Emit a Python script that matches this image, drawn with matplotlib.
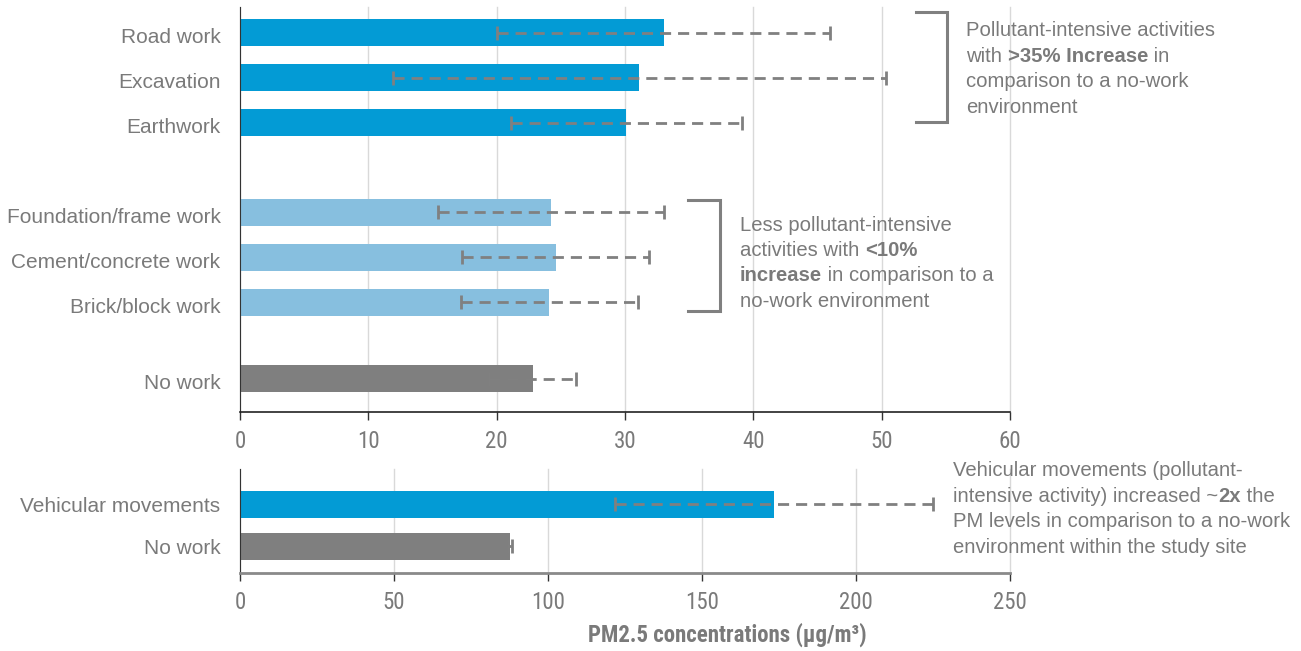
import matplotlib
matplotlib.use("Agg")
import matplotlib.pyplot as plt
from matplotlib import font_manager as fm
from matplotlib.transforms import ScaledTranslation

# ---------------- data ----------------
top_categories = ["Road work", "Excavation", "Earthwork",
                  "Foundation/frame work", "Cement/concrete work", "Brick/block work",
                  "No work"]
top_values = [33.0, 31.1, 30.1, 24.2, 24.6, 24.1, 22.8]
top_errors = [13.0, 19.2, 9.0, 8.8, 7.3, 6.9, 3.4]
top_groups = ["high", "high", "high", "low", "low", "low", "none"]
top_ticks = [0, 10, 20, 30, 40, 50, 60]

bottom_categories = ["Vehicular movements", "No work"]
bottom_values = [173.4, 87.7]
bottom_errors = [51.6, 0.7]
bottom_groups = ["high", "none"]
bottom_ticks = [0, 50, 100, 150, 200, 250]

xlabel_text = "PM2.5 concentrations (µg/m³)"

note_high = [[("Pollutant-intensive activities", False)],
             [("with ", False), (">35% Increase", True), (" in", False)],
             [("comparison to a no-work", False)],
             [("environment", False)]]
note_low = [[("Less pollutant-intensive", False)],
            [("activities with ", False), ("<10%", True)],
            [("increase", True), (" in comparison to a", False)],
            [("no-work environment", False)]]
note_vehicle = [[("Vehicular movements (pollutant-", False)],
                [("intensive activity) increased ~", False), ("2x", True), (" the", False)],
                [("PM levels in comparison to a no-work", False)],
                [("environment within the study site", False)]]

# ---------------- style ----------------
colors = {"high": "#039BD5", "low": "#87BFDF", "none": "#7F7F7F"}
txt_color = "#7a7a7a"
err_color = "#808080"
grid_color = "#d9d9d9"

names = {f.name for f in fm.fontManager.ttflist}
narrow = "Liberation Sans Narrow" if "Liberation Sans Narrow" in names else "Roboto Condensed" if "Roboto Condensed" in names else "Liberation Sans"
body = "Liberation Sans"
plt.rcParams["font.family"] = [body, "DejaVu Sans"]

W, H = 1301, 651
fig = plt.figure(figsize=(W / 100, H / 100), dpi=100)


def px_axes(x0, y0, x1, y1):
    return fig.add_axes([x0 / W, 1 - y1 / H, (x1 - x0) / W, (y1 - y0) / H])


ax1 = px_axes(240, 7, 1010, 412)
ax2 = px_axes(240, 469, 1010, 573)


def draw_bars(ax, cats, vals, errs, groups, pos, height):
    ax.barh(pos, vals, height=height, color=[colors[g] for g in groups], zorder=2)
    eb = ax.errorbar(vals, pos, xerr=errs, fmt="none", ecolor=err_color,
                     elinewidth=2, capsize=5, capthick=2, zorder=3)
    for lc in eb[2]:
        lc.set_linestyle((0, (4, 2.5)))
    ax.set_yticks(pos)
    ax.set_yticklabels(cats)
    for s in ["top", "right"]:
        ax.spines[s].set_visible(False)
    ax.tick_params(axis="y", length=0, pad=14, labelsize=15, labelcolor=txt_color)
    ax.tick_params(axis="x", length=6, width=1, direction="out", pad=7,
                   labelsize=16.5, labelcolor=txt_color, color="#333333")
    ax.grid(axis="x", color=grid_color, linewidth=1, zorder=0)
    for gl in ax.get_xgridlines():
        gl.set_clip_on(False)
    ax.set_axisbelow(True)


# top chart: 3 groups with gaps
top_pos = []
p = 0.0
for i, g in enumerate(top_groups):
    if i > 0 and g != top_groups[i - 1]:
        p += 1.0 if g == "low" else 0.7
    top_pos.append(p)
    p += 1.0
draw_bars(ax1, top_categories, top_values, top_errors, top_groups, top_pos, 0.6)
ax1.set_xlim(top_ticks[0], top_ticks[-1])
ax1.set_xticks(top_ticks)
ax1.set_ylim(top_pos[-1] + 0.74, -0.57)
ax1.spines["left"].set_color("#333333")
ax1.spines["bottom"].set_color("#222222")
ax1.spines["bottom"].set_linewidth(1.2)
shift = ScaledTranslation(0, -3 / 100, fig.dpi_scale_trans)
for lab in ax1.get_yticklabels():
    lab.set_transform(lab.get_transform() + shift)

bottom_pos = list(range(len(bottom_categories)))
draw_bars(ax2, bottom_categories, bottom_values, bottom_errors, bottom_groups, bottom_pos, 0.65)
ax2.set_xlim(bottom_ticks[0], bottom_ticks[-1])
ax2.set_xticks(bottom_ticks)
ax2.set_ylim(bottom_pos[-1] + 0.65, -0.855)
ax2.spines["left"].set_color("#333333")
ax2.spines["bottom"].set_color("#8a8a8a")
ax2.spines["bottom"].set_linewidth(2)
for ax in (ax1, ax2):
    for lab in ax.get_xticklabels():
        lab.set_fontfamily(narrow)
    for gl in ax.get_xgridlines():
        gl.set_clip_on(False)

fig.text(727 / W, 1 - 635 / H, xlabel_text, ha="center", va="center",
         fontsize=16.5, fontweight="bold", color=txt_color, family=[narrow, "DejaVu Sans"])


# brackets
def bracket(x0, x1, y0, y1):
    xs = [x0, x1, x1, x0]
    ys = [y0, y0, y1, y1]
    fig.add_artist(plt.Line2D([x / W for x in xs], [1 - y / H for y in ys],
                              color=err_color, linewidth=2.2, solid_joinstyle="miter"))


bracket(916, 947, 12, 122)
bracket(688, 720, 200, 311)

renderer = fig.canvas.get_renderer()


def rich_text(x_px, y_first, spacing, lines, size):
    for k, segs in enumerate(lines):
        x = x_px
        y = y_first + k * spacing
        for s, bold in segs:
            t = fig.text(x / W, 1 - y / H, s, fontsize=size, color=txt_color,
                         fontweight="bold" if bold else "normal", va="baseline", ha="left")
            bb = t.get_window_extent(renderer)
            x += bb.width


rich_text(966, 36, 25.7, note_high, 14.6)
rich_text(740, 231, 25.2, note_low, 14.6)
rich_text(953, 476, 25.7, note_vehicle, 14.6)

fig.savefig("out.png", dpi=100)
